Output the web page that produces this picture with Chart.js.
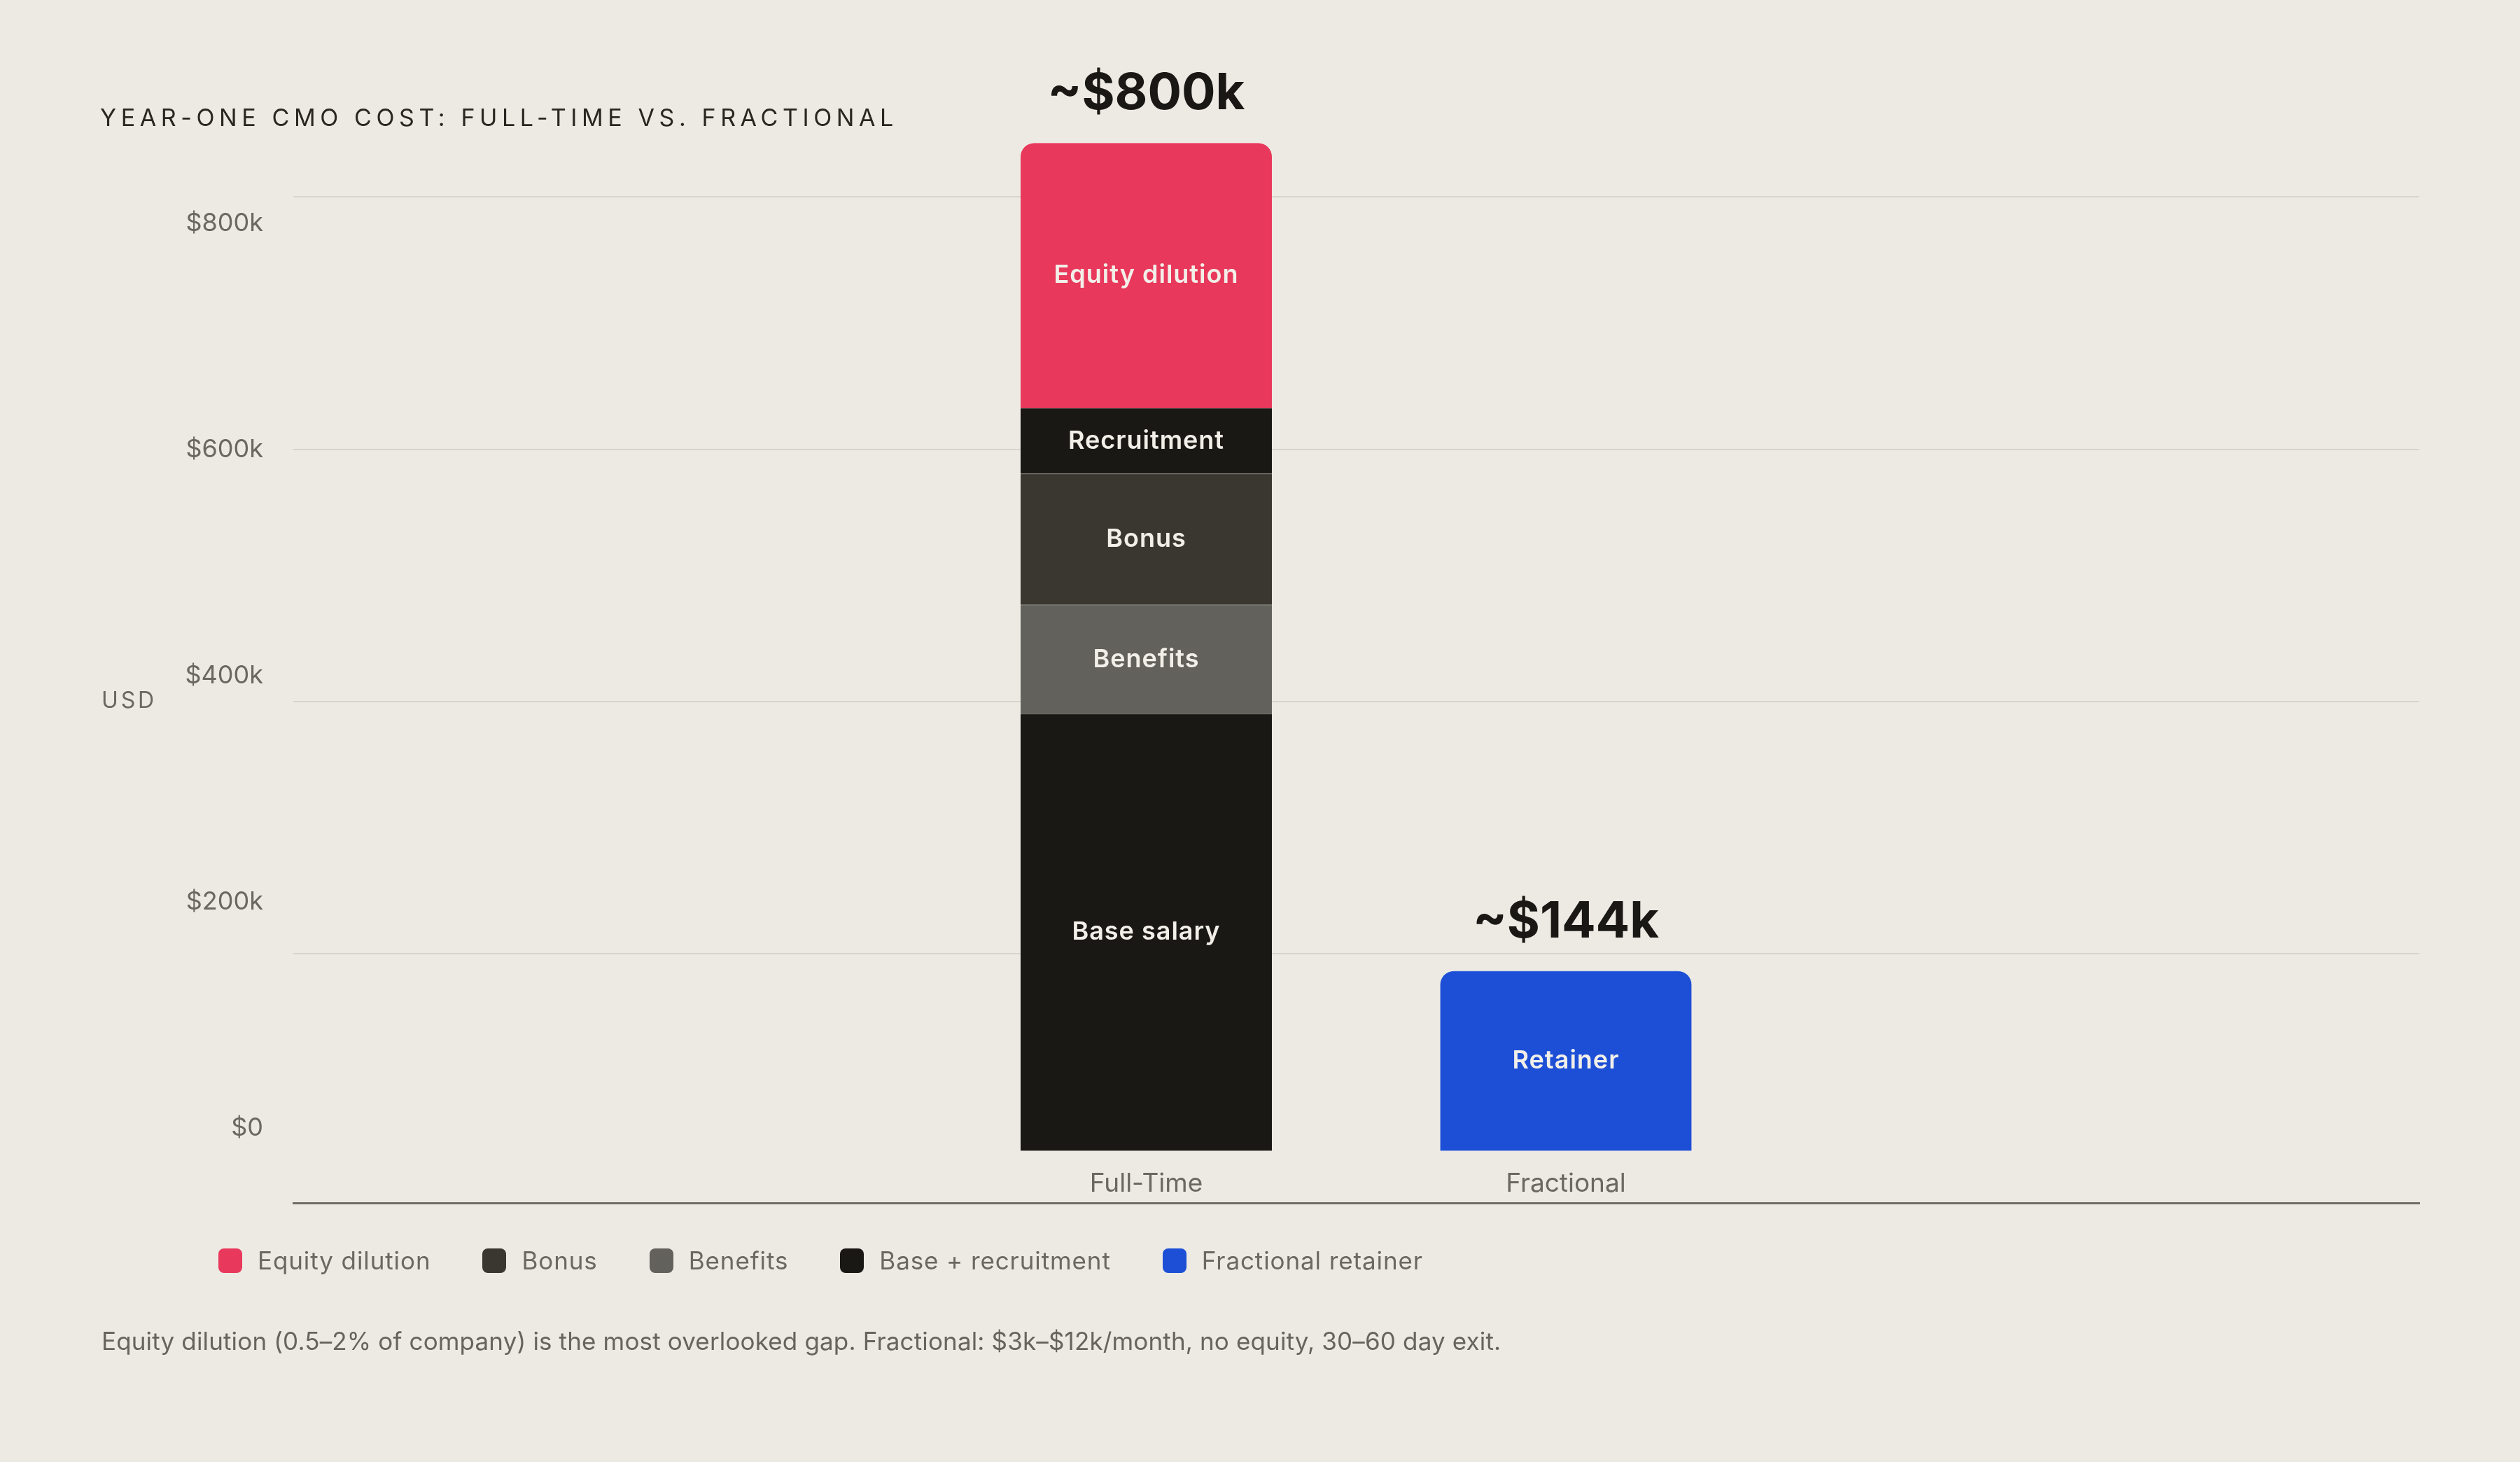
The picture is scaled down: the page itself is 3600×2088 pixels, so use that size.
<!DOCTYPE html>
<html>
<head>
<meta charset="utf-8">
<script src="https://cdn.jsdelivr.net/npm/chart.js@4.4.1/dist/chart.umd.min.js"></script>
<style>
  html, body { margin: 0; padding: 0; background: #edeae4; }
  #wrap { position: relative; width: 3600px; height: 2088px; font-family: Inter, "DejaVu Sans", sans-serif; }
  #chart { position: absolute; left: 0; top: 0; }
  .title { position: absolute; left: 143px; top: 151px; font-size: 34px; line-height: 1; letter-spacing: 6.6px; color: #2a2722; white-space: nowrap; }
  .unit { position: absolute; left: 145px; top: 984px; font-size: 32px; line-height: 1; letter-spacing: 0.12em; color: #6b6862; }
  .legend { position: absolute; left: 312px; top: 1778px; display: flex; gap: 74px; font-size: 35px; line-height: 44px; letter-spacing: 0.9px; color: #6b6862; white-space: nowrap; }
  .legend .item { display: flex; align-items: center; gap: 22px; }
  .legend i { width: 34px; height: 35px; border-radius: 8px; display: inline-block; }
  .note { position: absolute; left: 145px; top: 1898px; font-size: 35px; line-height: 1; letter-spacing: 0.15px; color: #67645e; white-space: nowrap; }
</style>
</head>
<body>
<div id="wrap">
  <canvas id="chart" width="3600" height="2088"></canvas>
  <div class="title">YEAR-ONE CMO COST: FULL-TIME VS. FRACTIONAL</div>
  <div class="unit">USD</div>
  <div class="legend" id="legend"></div>
  <div class="note">Equity dilution (0.5–2% of company) is the most overlooked gap. Fractional: $3k–$12k/month, no equity, 30–60 day exit.</div>
</div>
<script>
// values in $k
const categories = ["Full-Time", "Fractional"];
const segmentNames = ["Base salary", "Benefits", "Bonus", "Recruitment", "Equity dilution", "Retainer"];
const segmentCategory = [0, 0, 0, 0, 0, 1];
const segmentValues = [350, 87.5, 105, 52.5, 212.5, 144];
const segmentColors = ["#1a1815", "#63615c", "#3a3630", "#1a1815", "#e8385b", "#1c4fd6"];
const segmentEdges = ["#5a5752", "#8c8a85", "#7a7670", "#55524d", "#f07a91", "#5a80e4"];
const totalLabels = ["~$800k", "~$144k"];
const yTickValues = [0, 200, 400, 600, 800];
const gridValues = [200, 400, 600, 800];
const legendNames = ["Equity dilution", "Bonus", "Benefits", "Base + recruitment", "Fractional retainer"];
const legendColors = ["#e8385b", "#3a3630", "#63615c", "#1a1815", "#1c4fd6"];

const inkLight = "#f2efe9";
const inkDark = "#1a1815";
const inkMuted = "#6b6862";

document.getElementById("legend").innerHTML = legendNames
  .map((n, i) => `<span class="item"><i style="background:${legendColors[i]}"></i>${n}</span>`)
  .join("");

const topOfStack = segmentNames.map((_, i) =>
  segmentCategory.lastIndexOf(segmentCategory[i]) === i);

const datasets = segmentNames.map((name, i) => ({
  label: name,
  data: [{ x: segmentCategory[i], y: segmentValues[i] }],
  backgroundColor: segmentColors[i],
  borderColor: segmentEdges[i],
  borderWidth: { top: 1, left: 0, right: 0, bottom: 0 },
  borderRadius: topOfStack[i]
    ? { topLeft: 20, topRight: 20, bottomLeft: 0, bottomRight: 0 }
    : 0,
  barThickness: 359,
}));

const barLabels = {
  id: "barLabels",
  afterDatasetsDraw(chart) {
    const { ctx } = chart;
    const xs = chart.scales.x;
    const ys = chart.scales.y;
    ctx.save();
    ctx.textAlign = "center";
    ctx.textBaseline = "middle";
    ctx.font = "600 36px Inter";
    ctx.letterSpacing = "1px";
    ctx.fillStyle = inkLight;
    chart.data.datasets.forEach((ds, i) => {
      const bar = chart.getDatasetMeta(i).data[0];
      ctx.fillText(ds.label, bar.x, (bar.y + bar.base) / 2);
    });

    ctx.font = "700 72px Inter";
    ctx.letterSpacing = "0px";
    ctx.fillStyle = inkDark;
    ctx.textBaseline = "alphabetic";
    totalLabels.forEach((t, c) => {
      const sum = segmentValues
        .filter((_, j) => segmentCategory[j] === c)
        .reduce((a, b) => a + b, 0);
      ctx.fillText(t, xs.getPixelForValue(c), ys.getPixelForValue(sum) - 48);
    });
    ctx.restore();
  },
};

new Chart(document.getElementById("chart"), {
  type: "bar",
  data: { datasets },
  plugins: [barLabels],
  options: {
    responsive: false,
    devicePixelRatio: 1,
    animation: false,
    events: [],
    layout: { padding: { top: 80, right: 144, bottom: 0, left: 0 } },
    plugins: { legend: { display: false }, tooltip: { enabled: false } },
    scales: {
      x: {
        type: "linear",
        position: "bottom",
        stacked: true,
        offset: false,
        min: -2.0325,
        max: 3.0334,
        grid: { display: false, drawTicks: false },
        border: { display: true, color: "#6f6c66", width: 3 },
        ticks: {
          mirror: true,
          padding: 5,
          color: inkMuted,
          font: { family: "Inter", size: 37 },
          maxRotation: 0,
          autoSkip: false,
          callback: (v, i) => categories[i],
        },
        afterBuildTicks: (s) => { s.ticks = categories.map((_, i) => ({ value: i })); },
        afterFit: (s) => { s.height = 370; },
      },
      y: {
        type: "linear",
        display: false,
        stacked: true,
        min: -41.8,
        max: 877.2,
      },
      yl: {
        type: "linear",
        position: "left",
        min: -65.9,
        max: 948.0,
        grid: { display: false, drawTicks: false },
        border: { display: false },
        ticks: {
          padding: 43,
          color: inkMuted,
          font: { family: "Inter", size: 36 },
          callback: (v) => (v === 0 ? "$0" : `$${v}k`),
        },
        afterBuildTicks: (s) => { s.ticks = yTickValues.map((v) => ({ value: v })); },
        afterFit: (s) => { s.width = 419; },
      },
      yg: {
        type: "linear",
        position: "right",
        min: 2.11,
        max: 911.9,
        z: 1,
        grid: { color: "rgba(190,186,178,0.45)", lineWidth: 2, drawTicks: false },
        border: { display: false },
        ticks: { display: false },
        afterBuildTicks: (s) => { s.ticks = gridValues.map((v) => ({ value: v })); },
        afterFit: (s) => { s.width = 0; },
      },
    },
  },
});
</script>
</body>
</html>
